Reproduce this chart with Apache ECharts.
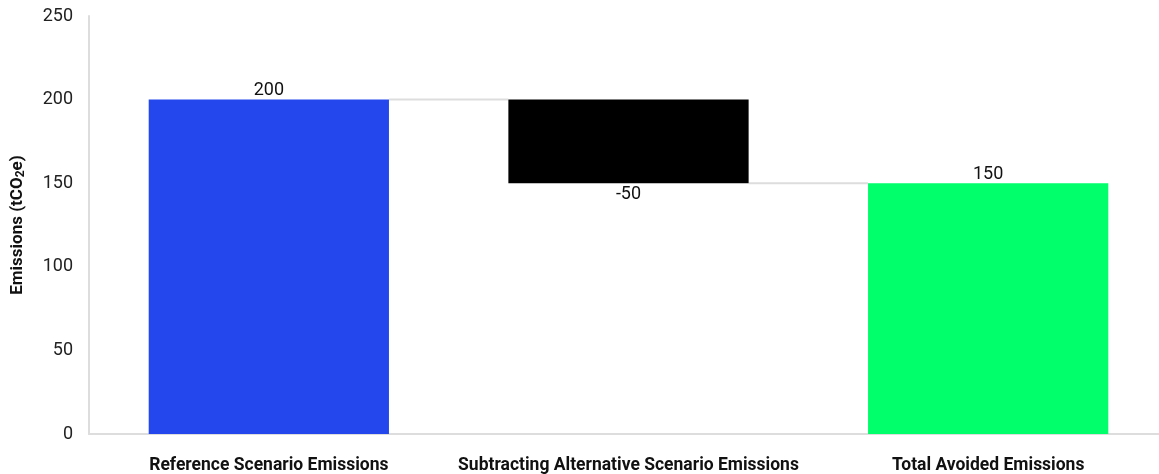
<!DOCTYPE html>
<html>
<head>
<meta charset="utf-8">
<script src="https://cdn.jsdelivr.net/npm/echarts@6/dist/echarts.min.js"></script>
<style>html,body{margin:0;padding:0;background:#fff}#c{width:1159px;height:474px}</style>
</head>
<body>
<div id="c"></div>
<script>
var categories = ['Reference Scenario Emissions', 'Subtracting Alternative Scenario Emissions', 'Total Avoided Emissions'];
var values = [200, -50, 150];
var colors = ['#2347EC', '#000000', '#00FF6B'];
var yTicks = { min: 0, max: 250, interval: 50 };

// waterfall: first and last are totals, middle is a delta
var base = [], height = [], level = [];
var running = 0;
for (var i = 0; i < values.length; i++) {
  var isTotal = (i === 0 || i === values.length - 1);
  if (isTotal) {
    base.push(0); height.push(values[i]); running = values[i];
  } else {
    var next = running + values[i];
    base.push(Math.min(running, next)); height.push(Math.abs(values[i])); running = next;
  }
  level.push(running);
}
var barRatio = 0.668;
var chart = echarts.init(document.getElementById('c'));
chart.setOption({
  animation: false,
  grid: { left: 89, right: -9, top: 16, bottom: 40, outerBoundsMode: 'none', containLabel: false },
  xAxis: {
    type: 'category', data: categories,
    axisLine: { lineStyle: { color: '#dddddd', width: 2 } },
    axisTick: { show: false },
    axisLabel: { color: '#111', fontFamily: 'Roboto', fontWeight: 'bold', fontSize: 17.5, margin: 23, interval: 0 }
  },
  yAxis: {
    type: 'value', min: yTicks.min, max: yTicks.max, interval: yTicks.interval,
    name: '{a|Emissions (tCO}{b|2}{a|e)}',
    nameLocation: 'middle', nameGap: 62,
    nameTextStyle: {
      rich: {
        a: { fontFamily: 'Roboto', fontWeight: 'bold', fontSize: 17, color: '#111' },
        b: { fontFamily: 'Roboto', fontWeight: 'bold', fontSize: 12, color: '#111', padding: [7, 0, 0, 0] }
      }
    },
    axisLine: { show: true, lineStyle: { color: '#dddddd', width: 2 } },
    axisTick: { show: false },
    splitLine: { show: false },
    axisLabel: { color: '#222', fontFamily: 'Roboto', fontSize: 18, margin: 16 }
  },
  series: [
    {
      type: 'bar', stack: 'w', silent: true,
      itemStyle: { color: 'transparent' },
      data: base, barWidth: (barRatio * 100) + '%'
    },
    {
      type: 'bar', stack: 'w',
      data: height.map(function (h, i) {
        return {
          value: h,
          itemStyle: { color: colors[i] },
          label: {
            show: true,
            position: values[i] < 0 ? 'bottom' : 'top',
            distance: values[i] < 0 ? 2 : 0,
            formatter: String(values[i]),
            color: '#111', fontFamily: 'Roboto', fontSize: 18
          }
        };
      })
    },
    {
      type: 'custom',
      silent: true,
      data: level.slice(0, level.length - 1).map(function (v, i) { return [i, v]; }),
      renderItem: function (params, api) {
        var i = api.value(0), v = api.value(1);
        var bw = api.size([1, 0])[0] * barRatio / 2;
        var p1 = api.coord([i, v]), p2 = api.coord([i + 1, v]);
        return {
          type: 'line', z2: -1,
          shape: { x1: p1[0] + bw, y1: p1[1], x2: p2[0] - bw, y2: p2[1] },
          style: { stroke: '#dddddd', lineWidth: 2 }
        };
      },
      z: 1
    }
  ]
});
</script>
</body>
</html>
